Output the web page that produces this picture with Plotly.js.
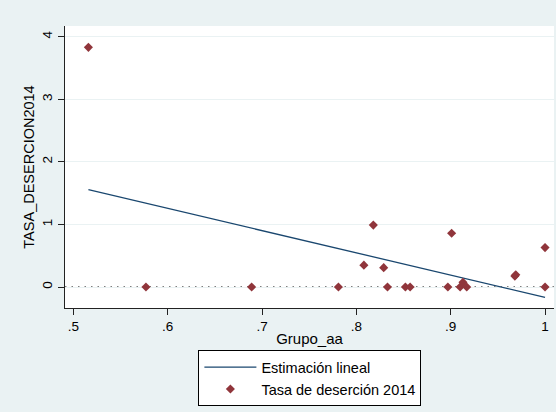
<!DOCTYPE html>
<html>
<head>
<meta charset="utf-8">
<script src="https://cdn.plot.ly/plotly-3.0.1.min.js"></script>
<style>html,body{margin:0;padding:0;background:#eaf2f3;}#chart{width:556px;height:412px;}</style>
</head>
<body>
<div id="chart"></div>
<script>
// Data
var grupoAA = [0.516, 0.577, 0.689, 0.781, 0.808, 0.818, 0.829, 0.833, 0.852, 0.857, 0.897, 0.901, 0.910, 0.913, 0.917, 0.968, 0.969, 1.000, 1.000];
var tasaDesercion = [3.83, 0, 0, 0, 0.35, 0.99, 0.31, 0, 0, 0, 0, 0.86, 0, 0.075, 0, 0.175, 0.195, 0.63, 0];
var xTickVals = [0.5, 0.6, 0.7, 0.8, 0.9, 1.0];
var xTickText = ['.5', '.6', '.7', '.8', '.9', '1'];
var yTickVals = [0, 1, 2, 3, 4];
var yTickText = ['0', '1', '2', '3', '4'];

// Linear fit (OLS) from the data
var n = grupoAA.length, mx = 0, my = 0;
for (var i = 0; i < n; i++) { mx += grupoAA[i]; my += tasaDesercion[i]; }
mx /= n; my /= n;
var sxy = 0, sxx = 0;
for (var i = 0; i < n; i++) { sxy += (grupoAA[i]-mx)*(tasaDesercion[i]-my); sxx += (grupoAA[i]-mx)*(grupoAA[i]-mx); }
var slope = sxy / sxx, intercept = my - slope * mx;
var xmin = Math.min.apply(null, grupoAA), xmax = Math.max.apply(null, grupoAA);
var fitX = [xmin, xmax];
var fitY = fitX.map(function (x) { return intercept + slope * x; });

var font = 'Liberation Sans, Arial, sans-serif';
var traces = [
  {x: fitX, y: fitY, type: 'scatter', mode: 'lines', name: 'Estimación lineal',
   line: {color: '#1a476f', width: 1.3}},
  {x: grupoAA, y: tasaDesercion, type: 'scatter', mode: 'markers', name: 'Tasa de deserción 2014',
   marker: {symbol: 'diamond', color: '#90353b', size: 7}}
];
var layout = {
  width: 556, height: 412,
  paper_bgcolor: '#eaf2f3', plot_bgcolor: '#ffffff',
  margin: {l: 65, r: 2, t: 26, b: 104},
  font: {family: font, color: '#000', size: 13.5},
  xaxis: {range: [0.4912, 1.0095], tickvals: xTickVals, ticktext: xTickText,
    showgrid: false, zeroline: false, showline: true, linecolor: '#222', linewidth: 1.2,
    ticks: 'outside', ticklen: 6, tickcolor: '#222',
    title: {text: 'Grupo_aa', font: {size: 15}, standoff: 0}},
  yaxis: {range: [-0.335, 4.171], tickvals: yTickVals, ticktext: yTickText, tickangle: -90,
    showgrid: true, gridcolor: '#eaf2f3', gridwidth: 1, zeroline: false,
    showline: true, linecolor: '#222', linewidth: 1.2,
    ticks: 'outside', ticklen: 6, tickcolor: '#222',
    title: {text: 'TASA_DESERCION2014', font: {size: 14.5}, standoff: 2}},
  shapes: [{type: 'line', xref: 'paper', x0: 0, x1: 1, yref: 'y', y0: 0, y1: 0,
    line: {color: '#000', width: 1.3, dash: '1.5px,5px'}, layer: 'below'}],
  legend: {x: 0.5008, xanchor: 'center', yref: 'container', y: 0.150, yanchor: 'top',
    bgcolor: '#ffffff', bordercolor: '#000', borderwidth: 1, itemwidth: 52,
    font: {size: 14.5}, tracegroupgap: 0},
  showlegend: true
};
Plotly.newPlot('chart', traces, layout, {displayModeBar: false, staticPlot: true});
</script>
</body>
</html>
